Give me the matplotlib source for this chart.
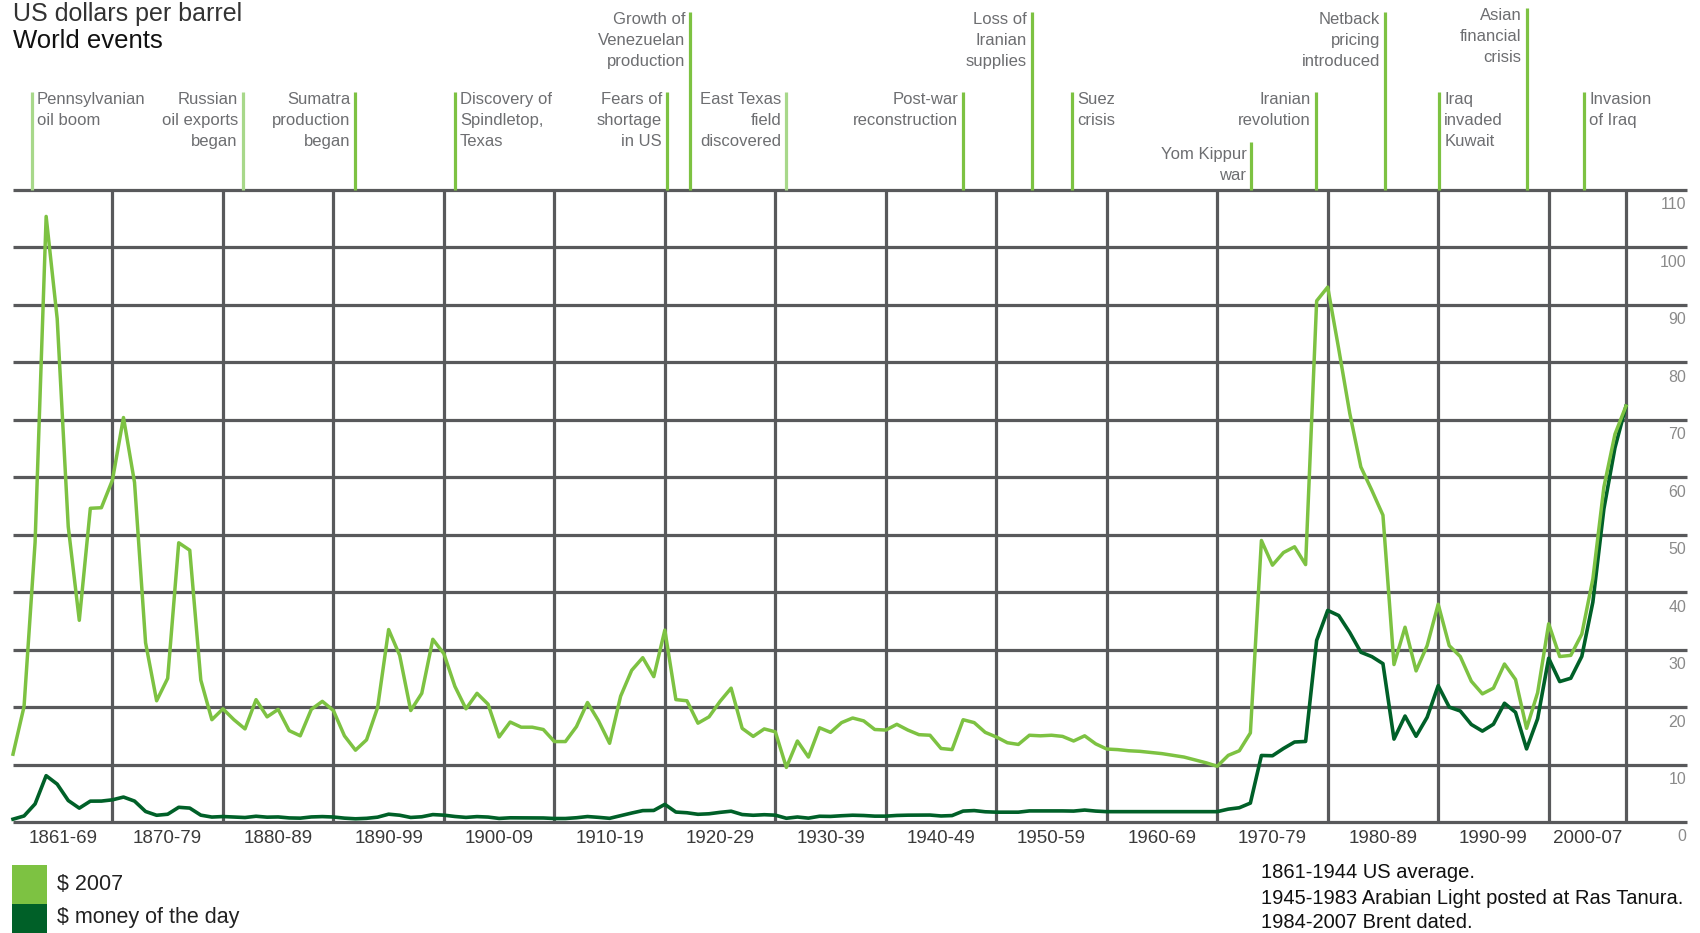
import matplotlib
matplotlib.use("Agg")
import matplotlib.pyplot as plt
import matplotlib.transforms as mtransforms
from matplotlib.patches import Rectangle
import numpy as np

plt.rcParams["font.family"] = ["Liberation Sans", "DejaVu Sans"]

LIGHT = "#7dc242"
DARK = "#006028"
GRID = "#58595b"
TEXT_GREY = "#6d6e71"

# crude oil price, US dollars per barrel, 1861-2007
YEARS = np.arange(1861, 2008)
PRICE_2007 = [
    11.8, 20.1, 48.7, 105.4, 87.6, 51.4, 35.1, 54.6, 54.7,
    59.5, 70.4, 59.1, 31.2, 21.1, 25.0, 48.6, 47.3, 24.7, 17.8,
    19.7, 17.8, 16.2, 21.3, 18.3, 19.6, 15.9, 15.0, 19.6, 21.0,
    19.4, 15.0, 12.5, 14.3, 19.9, 33.5, 29.0, 19.4, 22.4, 31.8,
    29.3, 23.6, 19.7, 22.4, 20.5, 14.8, 17.4, 16.5, 16.5, 16.1,
    14.0, 14.0, 16.6, 20.8, 17.6, 13.7, 21.9, 26.4, 28.6, 25.3,
    33.4, 21.3, 21.1, 17.2, 18.3, 21.0, 23.3, 16.3, 14.9, 16.2,
    15.7, 9.5, 14.1, 11.3, 16.4, 15.6, 17.3, 18.1, 17.6, 16.1,
    16.0, 17.0, 16.0, 15.2, 15.1, 12.8, 12.6, 17.8, 17.3, 15.6,
    14.8, 13.8, 13.5, 15.1, 15.0, 15.1, 14.9, 14.1, 15.0, 13.6,
    12.7, 12.6, 12.4, 12.3, 12.1, 11.9, 11.6, 11.3, 10.8, 10.3,
    9.7, 11.6, 12.4, 15.5, 49.0, 44.7, 46.9, 47.9, 44.8, 90.7,
    93.1, 82.3, 71.1, 61.8, 57.7, 53.4, 27.4, 33.9, 26.3, 30.7,
    37.9, 30.7, 28.8, 24.5, 22.3, 23.3, 27.5, 24.8, 16.3, 22.5,
    34.5, 28.8, 29.0, 32.7, 42.3, 58.3, 67.5, 72.4,
]
PRICE_MOD = [
    0.49, 1.05, 3.15, 8.06, 6.59, 3.74, 2.41, 3.63, 3.64,
    3.86, 4.34, 3.64, 1.83, 1.17, 1.35, 2.56, 2.42, 1.19, 0.86,
    0.95, 0.86, 0.78, 1.00, 0.84, 0.88, 0.71, 0.67, 0.88, 0.94,
    0.87, 0.67, 0.56, 0.64, 0.84, 1.36, 1.18, 0.79, 0.91, 1.29,
    1.19, 0.96, 0.80, 0.94, 0.86, 0.62, 0.73, 0.72, 0.72, 0.70,
    0.61, 0.61, 0.74, 0.95, 0.81, 0.64, 1.10, 1.56, 1.98, 2.01,
    3.07, 1.73, 1.61, 1.34, 1.43, 1.68, 1.88, 1.30, 1.17, 1.27,
    1.19, 0.65, 0.87, 0.67, 1.00, 0.97, 1.09, 1.18, 1.13, 1.02,
    1.02, 1.14, 1.19, 1.20, 1.21, 1.05, 1.12, 1.90, 1.99, 1.78,
    1.71, 1.71, 1.71, 1.93, 1.93, 1.93, 1.93, 1.90, 2.08, 1.90,
    1.80, 1.80, 1.80, 1.80, 1.80, 1.80, 1.80, 1.80, 1.80, 1.80,
    1.80, 2.24, 2.48, 3.29, 11.58, 11.53, 12.80, 13.92, 14.02, 31.61,
    36.83, 35.93, 32.97, 29.55, 28.78, 27.56, 14.43, 18.44, 14.92, 18.23,
    23.73, 20.00, 19.32, 16.97, 15.82, 17.02, 20.67, 19.09, 12.72, 17.97,
    28.50, 24.44, 25.02, 28.83, 38.27, 54.52, 65.14, 72.39,
]

DECADE_LABELS = ["1861-69", "1870-79", "1880-89", "1890-99", "1900-09",
                 "1910-19", "1920-29", "1930-39", "1940-49", "1950-59",
                 "1960-69", "1970-79", "1980-89", "1990-99", "2000-07"]
DECADE_EDGES = [1861, 1870, 1880, 1890, 1900, 1910, 1920, 1930, 1940,
                1950, 1960, 1970, 1980, 1990, 2000, 2007]
Y_TICKS = [0, 10, 20, 30, 40, 50, 60, 70, 80, 90, 100, 110]

# world events: year, label, side of text, marker height
EVENT_YEARS = [1862.7, 1881.8, 1892, 1901, 1920.2, 1922.3, 1931, 1947,
               1953.2, 1956.9, 1973.1, 1978.9, 1985.2, 1990.1, 1998, 2003.2]
EVENT_LABELS = [
    "Pennsylvanian\noil boom", "Russian\noil exports\nbegan",
    "Sumatra\nproduction\nbegan", "Discovery of\nSpindletop,\nTexas",
    "Fears of\nshortage\nin US", "Growth of\nVenezuelan\nproduction",
    "East Texas\nfield\ndiscovered", "Post-war\nreconstruction",
    "Loss of\nIranian\nsupplies", "Suez\ncrisis", "Yom Kippur\nwar",
    "Iranian\nrevolution", "Netback\npricing\nintroduced",
    "Iraq\ninvaded\nKuwait", "Asian\nfinancial\ncrisis", "Invasion\nof Iraq",
]
EVENT_SIDE = ["right", "left", "left", "right", "left", "left", "left", "left",
              "left", "right", "left", "left", "left", "right", "left", "right"]
EVENT_LEVEL = ["normal", "normal", "normal", "normal", "normal", "tall", "normal",
               "normal", "tall", "normal", "short", "normal", "tall", "normal",
               "top", "normal"]
EVENT_FAINT = [True, True, False, False, False, False, True, False,
               False, False, False, False, False, False, False, False]

W, H = 1700, 933
LEVEL_TOP = {"short": 142, "normal": 92, "tall": 12, "top": 8}
LEVEL_TEXT_DROP = {"short": 5, "normal": 0, "tall": 0, "top": 0}


def fy(px):
    return 1 - px / H


fig = plt.figure(figsize=(17, 9.33), dpi=100)
ax_left, ax_right, ax_top, ax_bottom = 13, 1626, 190, 822
ax = fig.add_axes([ax_left / W, fy(ax_bottom), (ax_right - ax_left) / W,
                   (ax_bottom - ax_top) / H])
ax.set_xlim(1861, 2007)
ax.set_ylim(0, 110)
ax.axis("off")

ytrans = ax.get_yaxis_transform()
xtrans = ax.get_xaxis_transform()
ext = (1687 - ax_left) / (ax_right - ax_left)

for v in Y_TICKS:
    ax.plot([0, ext], [v, v], color=GRID, lw=2.3, transform=ytrans,
            clip_on=False, zorder=1, solid_capstyle="butt")
    ax.text(ext - 0.0005, v - 1.3, str(v), transform=ytrans, ha="right", va="top",
            fontsize=11.5, color="#8a8a8a")

for edge in DECADE_EDGES[1:]:
    ax.plot([edge, edge], [0, 110], color=GRID, lw=2.3, zorder=1,
            solid_capstyle="butt", clip_on=False)

for i, lab in enumerate(DECADE_LABELS):
    mid = (DECADE_EDGES[i] + DECADE_EDGES[i + 1]) / 2
    ax.text(mid, -0.026, lab, transform=xtrans, ha="center", va="center",
            fontsize=13.5, color="#3a3a3a")

ax.plot(YEARS, PRICE_MOD, color=DARK, lw=2.6, zorder=3, clip_on=False)
ax.plot(YEARS, PRICE_2007, color=LIGHT, lw=2.5, zorder=4, clip_on=False)

# event markers above the chart
blend = mtransforms.blended_transform_factory(ax.transData, fig.transFigure)
for yr, lab, side, lvl, faint in zip(EVENT_YEARS, EVENT_LABELS, EVENT_SIDE,
                                     EVENT_LEVEL, EVENT_FAINT):
    top = LEVEL_TOP[lvl]
    ax.plot([yr, yr], [fy(ax_top), fy(top)], transform=blend, clip_on=False,
            color="#a8d88a" if faint else LIGHT, lw=2.3, solid_capstyle="butt")
    dx = 5 if side == "right" else -5
    ax.annotate(lab, xy=(yr, fy(top + LEVEL_TEXT_DROP[lvl])), xycoords=blend,
                xytext=(dx, 0), textcoords="offset pixels",
                ha="left" if side == "right" else "right",
                va="top", fontsize=12, color=TEXT_GREY, linespacing=1.5,
                multialignment="left" if side == "right" else "right")

# headings
fig.text(13 / W, fy(14), "US dollars per barrel", fontsize=18, color="#333333",
         va="center", ha="left")
fig.text(13 / W, fy(41), "World events", fontsize=18.5, color="#111111",
         va="center", ha="left")

# legend
fig.add_artist(Rectangle((12 / W, fy(904)), 35 / W, 39 / H, transform=fig.transFigure,
                         color=LIGHT, lw=0))
fig.add_artist(Rectangle((12 / W, fy(933)), 35 / W, 29 / H, transform=fig.transFigure,
                         color=DARK, lw=0))
fig.text(57 / W, fy(884), "$ 2007", fontsize=15.5, color="#222222", va="center")
fig.text(57 / W, fy(917), "$ money of the day", fontsize=15.5, color="#222222",
         va="center")

# source notes
notes = ["1861-1944 US average.", "1945-1983 Arabian Light posted at Ras Tanura.",
         "1984-2007 Brent dated."]
for txt, ypx in zip(notes, [873, 899, 923]):
    fig.text(1261 / W, fy(ypx), txt, fontsize=14.5, color="#111111", va="center")

fig.savefig("out.png", dpi=100)
